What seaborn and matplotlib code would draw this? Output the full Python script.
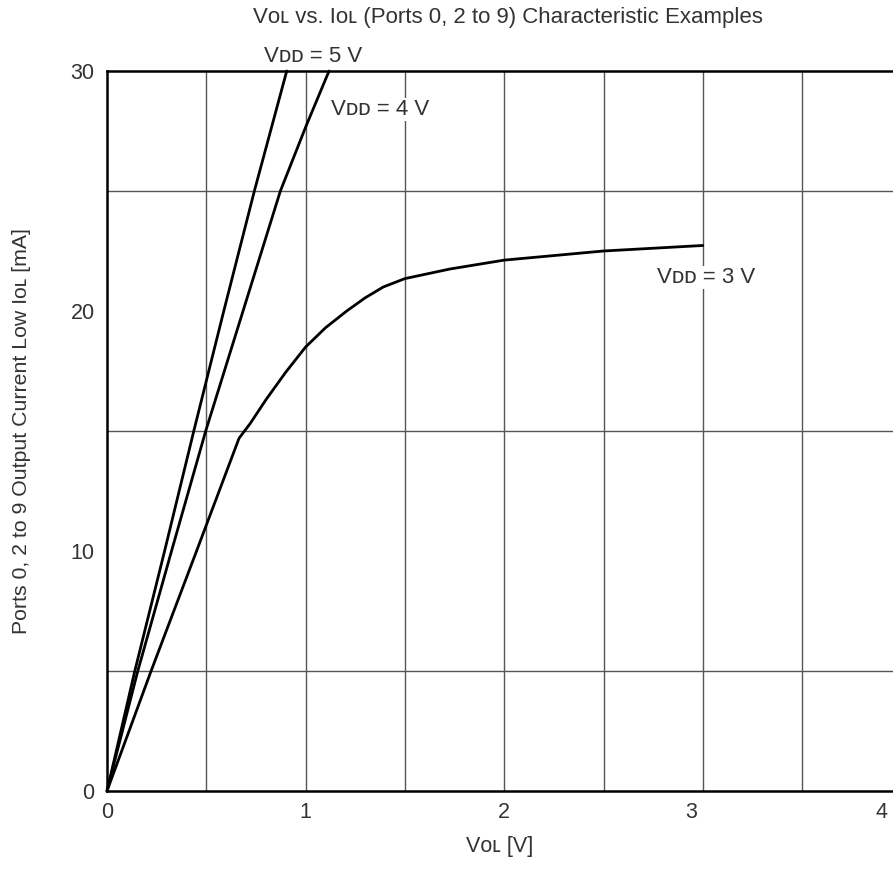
import numpy as np
import pandas as pd
import matplotlib
matplotlib.use('Agg')
import matplotlib.pyplot as plt
import seaborn as sns

# data
vol_5v = [0.0, 0.14, 0.29, 0.437, 0.588, 0.742, 0.905]
iol_5v = [0.0, 5.0, 10.0, 15.0, 20.0, 25.0, 30.0]

vol_4v = [0.0, 0.155, 0.325, 0.497, 0.685, 0.873, 1.002, 1.118]
iol_4v = [0.0, 5.0, 10.0, 15.0, 20.0, 25.0, 27.7, 30.0]

vol_3v = [0.0, 0.222, 0.451, 0.665, 0.72, 0.8, 0.9, 1.0, 1.1, 1.207, 1.3, 1.391, 1.5, 1.727, 2.0, 2.5, 3.0]
iol_3v = [0.0, 5.0, 10.0, 14.7, 15.3, 16.3, 17.45, 18.5, 19.3, 20.0, 20.55, 21.0, 21.35, 21.75, 22.12, 22.5, 22.73]

xtick_pos = [0, 1, 2, 2.94, 3.9]
xtick_labels = ['0', '1', '2', '3', '4']
ytick_pos = [0, 10, 20, 30]

sns.set_style("white")
plt.rcParams['font.family'] = ['Liberation Sans', 'DejaVu Sans']
txt = '#333333'

fig = plt.figure(figsize=(8.93, 8.73), dpi=100)
ax = fig.add_axes([107 / 893, 82 / 873, 786 / 893, 720 / 873])

for xs, ys in [(vol_5v, iol_5v), (vol_4v, iol_4v), (vol_3v, iol_3v)]:
    df = pd.DataFrame({'V': xs, 'I': ys})
    sns.lineplot(data=df, x='V', y='I', sort=False, color='black', linewidth=2.0,
                 ax=ax, legend=False, zorder=3, clip_on=False)

ax.set_xlim(0, 786 / 198.6)
ax.set_ylim(0, 30)

# grid every 0.5 V / 5 mA
ax.xaxis.remove_overlapping_locs = False
ax.set_xticks(np.arange(0.5, 3.6, 0.5), minor=True)
ax.set_yticks(np.arange(5, 30, 5), minor=True)
ax.grid(which='minor', axis='both', color='#555555', linewidth=1.0, zorder=1)
ax.grid(which='major', axis='both', visible=False)

ax.set_xticks(xtick_pos)
ax.set_xticklabels(xtick_labels)
ax.set_yticks(ytick_pos)
ax.set_yticklabels([str(v) for v in ytick_pos])
ax.tick_params(axis='both', which='both', length=0, labelsize=15.5, colors=txt)
ax.tick_params(axis='x', pad=8)
ax.tick_params(axis='y', pad=9)

for side in ['left', 'bottom', 'top']:
    ax.spines[side].set_color('black')
    ax.spines[side].set_linewidth(1.8)
ax.spines['right'].set_visible(False)

ax.set_xlabel('Vᴏʟ [V]', fontsize=15.5, color=txt, labelpad=9)
ax.set_ylabel('Ports 0, 2 to 9 Output Current Low Iᴏʟ [mA]', fontsize=15.3, color=txt, labelpad=28)
fig.text(508 / 893, 1 - 17 / 873, 'Vᴏʟ vs. Iᴏʟ (Ports 0, 2 to 9) Characteristic Examples',
         ha='center', va='center', fontsize=16, color=txt)

ax.text(1.04, 30.6, 'Vᴅᴅ = 5 V', ha='center', va='center', fontsize=16, color=txt, clip_on=False)
ax.text(1.128, 28.4, 'Vᴅᴅ = 4 V', ha='left', va='center', fontsize=16, color=txt,
        bbox=dict(facecolor='white', edgecolor='none', pad=1), zorder=4)
ax.text(2.77, 21.4, 'Vᴅᴅ = 3 V', ha='left', va='center', fontsize=16, color=txt,
        bbox=dict(facecolor='white', edgecolor='none', pad=1), zorder=4)

fig.savefig('out.png', dpi=100)
